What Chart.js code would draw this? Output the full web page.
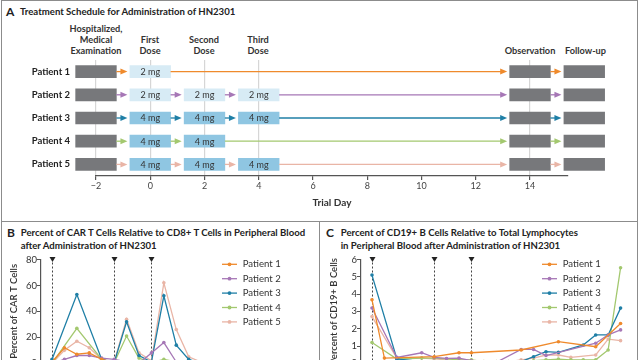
<!DOCTYPE html>
<html><head><meta charset="utf-8">
<script src="https://cdn.jsdelivr.net/npm/chart.js@4.4.1/dist/chart.umd.min.js"></script>
<style>
html,body{margin:0;padding:0;width:640px;height:360px;overflow:hidden;background:#fff;font-family:Lato,"Open Sans",sans-serif;color:#222}
.frame{position:absolute;border:1.5px solid #8c8c8c;box-sizing:border-box}
.ttl{position:absolute;font-weight:700;font-size:9.6px;line-height:12.5px;color:#222;white-space:nowrap}
.let{position:absolute;font-weight:700;font-size:12px;line-height:14px;color:#222}
.hdr{position:absolute;font-weight:700;font-size:9.2px;line-height:11.2px;text-align:center;transform:translateX(-50%);white-space:nowrap;color:#333}
canvas{position:absolute}
</style></head>
<body>
<div class="frame" style="left:1px;top:0;width:637px;height:222px"></div>
<div class="frame" style="left:1px;top:221px;width:319px;height:150px"></div>
<div class="frame" style="left:319px;top:221px;width:319px;height:150px"></div>

<div class="let" style="left:6px;top:5px">A</div>
<div class="ttl" style="left:20px;top:6px">Treatment Schedule for Administration of HN2301</div>
<div class="hdr" style="left:96px;top:22.7px">Hospitalized,<br>Medical<br>Examination</div>
<div class="hdr" style="left:150px;top:33.9px">First<br>Dose</div>
<div class="hdr" style="left:204px;top:33.9px">Second<br>Dose</div>
<div class="hdr" style="left:258px;top:33.9px">Third<br>Dose</div>
<div class="hdr" style="left:530px;top:44.5px">Observation</div>
<div class="hdr" style="left:585.5px;top:44.5px">Follow-up</div>

<div class="let" style="left:7px;top:226px">B</div>
<div class="ttl" style="left:20.7px;top:227px">Percent of CAR T Cells Relative to CD8+ T Cells in Peripheral Blood<br>after Administration of HN2301</div>
<div class="let" style="left:326px;top:226px">C</div>
<div class="ttl" style="left:340.7px;top:227px">Percent of CD19+ B Cells Relative to Total Lymphocytes<br>in Peripheral Blood after Administration of HN2301</div>

<canvas id="cA" width="640" height="216" style="left:0;top:0"></canvas>
<canvas id="cB" width="318" height="150" style="left:0;top:221px"></canvas>
<canvas id="cC" width="318" height="150" style="left:320px;top:221px"></canvas>

<script>
// ---------- Panel A data ----------
const patients = ['Patient 1', 'Patient 2', 'Patient 3', 'Patient 4', 'Patient 5'];
const hospitalization = [-2.75, -1.25];
const doseWindows = [[-0.75, 0.75], [1.25, 2.75], [3.25, 4.75]];
const doseMg = [[2], [2, 2, 2], [4, 4, 4], [4, 4], [4, 4, 4]];
const observation = [13.25, 14.75];
const followUp = [15.25, 16.75];
const markedDays = [-2, 0, 2, 4, 14];

// ---------- Panels B and C data (sampling time points) ----------
const sampleIdx = [0,1,2,3,4,5,6,7,8,9,10,11,12,13,14,15,16,17,18,19,20];
const doseSampleIdx = [0, 5, 8];
const carT_p1 = [1, 12, 7, 8, 3, 0.5, 0.5, 0.5, 0.5, 0.5, 0.5, 0.5, 0, 0, 0, 0, 0, 0, 0, 0, 0];
const carT_p2 = [0, 3, 6, 6, 4, 3, 1, 0, 8, 16, 1, 0, 0, 0, 0, 0, 0, 0, 0, 0, 0];
const carT_p3 = [3, null, 53, null, 3, 0.5, 32, 6, 1, 52, 14, 3, 0, 0, 0, 0, 0, 0, 0, 0, 0];
const carT_p4 = [0, null, 27, null, 3, 0.5, 21, 4, 0.5, 3, 1, 0, 0, 0, 0, 0, 0, 0, 0, 0, 0];
const carT_p5 = [0, 10, 17, 12, 3, 1, 34, 8, 2, 62, 26, 5, 1, 0, 0, 0, 0, 0, 0, 0, 0];
const cd19_p1 = [3.67, 0.3, null, null, null, 0.38, null, 0.61, 0.61, null, null, null, 0.77, null, null, 1.25, null, null, 0.96, null, 2.3];
const cd19_p2 = [3.2, null, 0.34, null, 0.61, 0.34, 0.28, 0.3, 0.15, null, 0.05, null, 0.8, 0.8, 0.45, null, null, null, 1.16, 1.64, 1.93];
const cd19_p3 = [5.1, null, 0.25, null, 0.1, 0.05, 0.05, 0.05, 0.05, 0.05, 0.05, 0.05, 0.1, 0.38, 0.67, 0.63, null, 1.06, 1.64, 1.64, 3.19];
const cd19_p4 = [1.2, null, 0.25, null, 0.3, 0.3, 0.25, 0.2, 0.2, 0.1, 0.1, 0.1, 0.1, 0.15, 0.2, 0.24, 0.2, 0.2, 0.2, 0.77, 5.52];
const cd19_p5 = [2.7, null, 0.3, null, 0.3, 0.25, 0.2, 0.2, 0.15, 0.1, 0.1, 0.1, 0.2, 0.3, 0.48, 0.48, 0.34, null, 0.48, 1.4, 1.31];

// ---------- styles ----------
const COLORS = ['#ef8a2c', '#a677b6', '#1f7fa6', '#a3c86f', '#e9b5a6'];
const BOX_GRAY = '#77787b', DOSE2 = '#d7ebf5', DOSE4 = '#8fc6e2';
const FONT = "Lato, 'Open Sans', sans-serif";
Chart.defaults.font.family = FONT;

// ---------- Panel A ----------
const scheduleDecor = {
  id: 'scheduleDecor',
  afterDatasetsDraw(chart) {
    const {ctx, scales: {x, y}} = chart;
    ctx.save();
    patients.forEach((p, i) => {
      const spans = [];
      chart.data.datasets.forEach(ds => { if (ds.data[i]) spans.push(ds.data[i]); });
      spans.sort((a, b) => a[0] - b[0]);
      const yy = y.getPixelForValue(i);
      ctx.strokeStyle = COLORS[i]; ctx.fillStyle = COLORS[i]; ctx.lineWidth = 1.3;
      for (let k = 0; k < spans.length - 1; k++) {
        const x1 = x.getPixelForValue(spans[k][1]);
        const x2 = x.getPixelForValue(spans[k + 1][0]) - 2.5;
        ctx.beginPath(); ctx.moveTo(x1, yy); ctx.lineTo(x2 - 5, yy); ctx.stroke();
        ctx.beginPath(); ctx.moveTo(x2, yy); ctx.lineTo(x2 - 7, yy - 3); ctx.lineTo(x2 - 7, yy + 3); ctx.closePath(); ctx.fill();
      }
      ctx.fillStyle = '#222'; ctx.font = 'bold 9.5px ' + FONT;
      ctx.textAlign = 'right'; ctx.textBaseline = 'middle';
      ctx.fillText(p, 70, yy);
    });
    chart.data.datasets.forEach(ds => {
      if (!ds.mg) return;
      ds.data.forEach((span, i) => {
        if (!span) return;
        const cx = x.getPixelForValue((span[0] + span[1]) / 2);
        ctx.fillStyle = '#333'; ctx.font = '9px ' + FONT;
        ctx.textAlign = 'center'; ctx.textBaseline = 'middle';
        ctx.fillText(ds.mg[i] + ' mg', cx, y.getPixelForValue(i) + 0.5);
      });
    });
    ctx.restore();
  }
};

new Chart(document.getElementById('cA'), {
  type: 'bar',
  data: {
    labels: patients,
    datasets: [
      {label: 'Hospitalized', data: patients.map(() => hospitalization), backgroundColor: BOX_GRAY},
      ...doseWindows.map((w, k) => ({
        label: 'Dose ' + (k + 1),
        data: doseMg.map(d => d[k] != null ? w : null),
        backgroundColor: doseMg.map(d => d[k] === 2 ? DOSE2 : DOSE4),
        mg: doseMg.map(d => d[k])
      })),
      {label: 'Observation', data: patients.map(() => observation), backgroundColor: BOX_GRAY},
      {label: 'Follow-up', data: patients.map(() => followUp), backgroundColor: BOX_GRAY}
    ]
  },
  options: {
    indexAxis: 'y', responsive: false, animation: false, devicePixelRatio: 1,
    layout: {padding: {left: 96, right: 72, top: 60, bottom: 0}},
    datasets: {bar: {barThickness: 12, grouped: false, clip: false, borderWidth: 0}},
    scales: {
      x: {
        type: 'linear', min: -2, max: 15.4,
        ticks: {stepSize: 2, includeBounds: false, autoSkip: false, maxRotation: 0, padding: 1,
          font: {size: 9}, color: '#444',
          callback: v => String(v).replace('-', '\u2212')},
        grid: {color: c => (c.tick && markedDays.includes(c.tick.value)) ? '#d6d6d6' : 'rgba(0,0,0,0)',
          lineWidth: 1.2, tickColor: '#555', tickLength: 4},
        border: {color: '#555', width: 1.2},
        title: {display: true, text: 'Trial Day', font: {size: 10, weight: 'bold'}, color: '#333', padding: {top: 0, bottom: 7}},
        afterFit: s => { s.height = 40; s.paddingLeft = 0; s.paddingRight = 0; }
      },
      y: {type: 'category', display: false, offset: true}
    },
    plugins: {legend: {display: false}, tooltip: {enabled: false}}
  },
  plugins: [scheduleDecor]
});

// ---------- Panels B & C ----------
const doseMarkers = {
  id: 'doseMarkers',
  beforeDatasetsDraw(chart) {
    const {ctx, chartArea: a, scales: {x}} = chart;
    ctx.save();
    doseSampleIdx.forEach(v => {
      const px = Math.round(x.getPixelForValue(v)) + 0.5;
      ctx.strokeStyle = '#444'; ctx.lineWidth = 1; ctx.setLineDash([2, 2]);
      ctx.beginPath(); ctx.moveTo(px, a.top + 3); ctx.lineTo(px, a.bottom); ctx.stroke();
      ctx.setLineDash([]);
      ctx.fillStyle = '#222';
      ctx.beginPath(); ctx.moveTo(px - 3, a.top - 2.5); ctx.lineTo(px + 3, a.top - 2.5); ctx.lineTo(px, a.top + 2.5); ctx.closePath(); ctx.fill();
    });
    ctx.restore();
  }
};
const sideLegend = {
  id: 'sideLegend',
  afterDraw(chart) {
    const {ctx} = chart;
    ctx.save();
    chart.data.datasets.forEach((ds, i) => {
      const yy = 43.3 + i * 14.4;
      ctx.strokeStyle = ds.borderColor; ctx.fillStyle = ds.borderColor; ctx.lineWidth = 1.3;
      ctx.beginPath(); ctx.moveTo(222, yy); ctx.lineTo(237, yy); ctx.stroke();
      ctx.beginPath(); ctx.arc(229.5, yy, 1.9, 0, Math.PI * 2); ctx.fill();
      ctx.fillStyle = '#333'; ctx.font = '9.6px ' + FONT; ctx.textAlign = 'left'; ctx.textBaseline = 'middle';
      ctx.fillText(ds.label, 242.7, yy);
    });
    ctx.restore();
  }
};

function lineChart(id, series, yMax, yStep, yTitle) {
  return new Chart(document.getElementById(id), {
    type: 'line',
    data: {
      datasets: series.map((vals, i) => ({
        label: patients[i],
        data: sampleIdx.map((sx, j) => ({x: sx, y: vals[j]})),
        borderColor: COLORS[i], backgroundColor: COLORS[i],
        borderWidth: 1.3, pointRadius: 1.8, pointBorderWidth: 0, tension: 0, spanGaps: true
      }))
    },
    options: {
      responsive: false, animation: false, devicePixelRatio: 1,
      layout: {padding: {left: 5, right: 5, top: 38.5, bottom: 7.7}},
      scales: {
        x: {type: 'linear', display: false, min: -0.925, max: 21},
        y: {
          min: 0, max: yMax,
          ticks: {stepSize: yStep, padding: 0, font: {size: 9.5}, color: '#333'},
          grid: {drawOnChartArea: false, tickLength: 3.5, tickColor: '#555'},
          border: {color: '#555', width: 1.2},
          title: {display: true, text: yTitle, font: {size: 9.5, weight: '600'}, color: '#333', padding: {top: 3, bottom: 0}},
          afterFit: s => { s.width = 35.5; s.paddingTop = 0; s.paddingBottom = 0; }
        }
      },
      plugins: {legend: {display: false}, tooltip: {enabled: false}}
    },
    plugins: [doseMarkers, sideLegend]
  });
}
lineChart('cB', [carT_p1, carT_p2, carT_p3, carT_p4, carT_p5], 80, 20, 'Percent of CAR T Cells');
lineChart('cC', [cd19_p1, cd19_p2, cd19_p3, cd19_p4, cd19_p5], 6, 1, 'Percent of CD19+ B Cells');
</script>
</body></html>
